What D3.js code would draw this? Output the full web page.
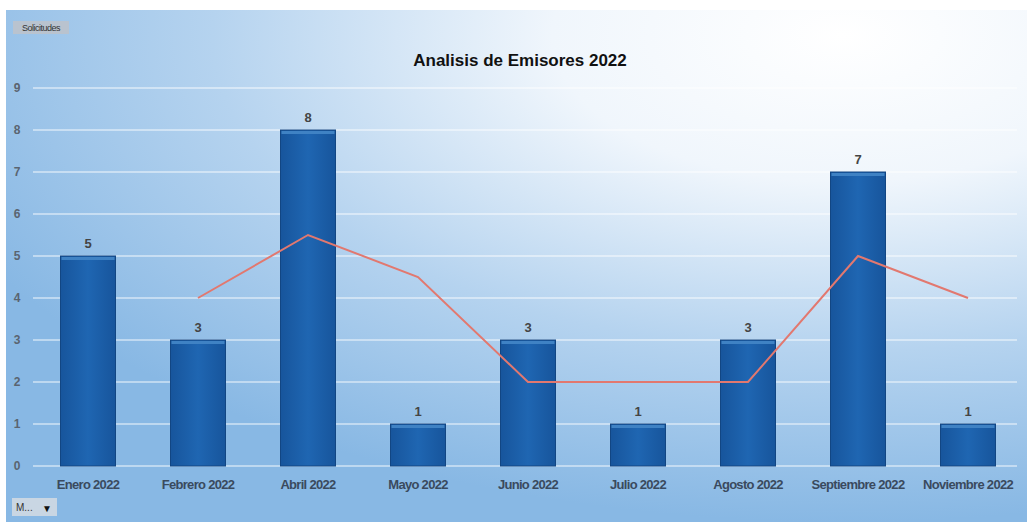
<!DOCTYPE html>
<html>
<head>
<meta charset="utf-8">
<script src="https://cdn.jsdelivr.net/npm/d3@7"></script>
<style>
  body { margin: 0; background: #fff; }
  svg { display: block; font-family: "Liberation Sans", Arial, sans-serif; }
</style>
</head>
<body>
<svg id="chart" width="1027" height="522"></svg>
<script>
// data
const months = ["Enero 2022", "Febrero 2022", "Abril 2022", "Mayo 2022", "Junio 2022",
                "Julio 2022", "Agosto 2022", "Septiembre 2022", "Noviembre 2022"];
const solicitudes = [5, 3, 8, 1, 3, 1, 3, 7, 1];
// trend line (starts at the second month)
const trendMonths = ["Febrero 2022", "Abril 2022", "Mayo 2022", "Junio 2022",
                     "Julio 2022", "Agosto 2022", "Septiembre 2022", "Noviembre 2022"];
const trendValues = [4, 5.5, 4.5, 2, 2, 2, 5, 4];
const yTicks = [0, 1, 2, 3, 4, 5, 6, 7, 8, 9];

const svg = d3.select("svg#chart");
const W = 1027, H = 522;
const margin = {top: 88, right: 4, bottom: 56, left: 33};

// background
const defs = svg.append("defs");
const bg = defs.append("radialGradient").attr("id", "bg")
  .attr("cx", "0.82").attr("cy", "0.05").attr("r", "0.95");
bg.append("stop").attr("offset", "0").attr("stop-color", "#ffffff");
bg.append("stop").attr("offset", "0.3").attr("stop-color", "#f0f6fc");
bg.append("stop").attr("offset", "0.65").attr("stop-color", "#b5d3ef");
bg.append("stop").attr("offset", "1").attr("stop-color", "#88b8e4");

const barGrad = defs.append("linearGradient").attr("id", "bar")
  .attr("x1", 0).attr("x2", 1).attr("y1", 0).attr("y2", 0);
barGrad.append("stop").attr("offset", "0").attr("stop-color", "#17559c");
barGrad.append("stop").attr("offset", "0.5").attr("stop-color", "#1f66b2");
barGrad.append("stop").attr("offset", "1").attr("stop-color", "#17559c");

svg.append("rect").attr("width", W).attr("height", H).attr("fill", "#ffffff");
svg.append("rect")
  .attr("x", 6).attr("y", 10)
  .attr("width", W - 6).attr("height", H - 10)
  .attr("fill", "url(#bg)");

const x = d3.scaleBand()
  .domain(months)
  .range([margin.left, W - margin.right])
  .paddingInner(0.5)
  .paddingOuter(0.25);

const y = d3.scaleLinear()
  .domain([0, 9])
  .range([H - margin.bottom, margin.top]);

// grid lines
svg.append("g")
  .selectAll("line")
  .data(yTicks)
  .join("line")
  .attr("x1", margin.left)
  .attr("x2", W - 10)
  .attr("y1", d => y(d))
  .attr("y2", d => y(d))
  .attr("stroke", "#ffffff")
  .attr("stroke-opacity", 0.6)
  .attr("stroke-width", 1.5);

// y axis labels
const yAxis = svg.append("g")
  .attr("transform", "translate(17,0)")
  .call(d3.axisLeft(y).tickValues(yTicks).tickSize(0).tickPadding(0));
yAxis.select(".domain").remove();
yAxis.selectAll("text")
  .attr("font-size", 12).attr("font-weight", "bold")
  .attr("fill", "#5a6470").attr("text-anchor", "middle")
  .style("font-family", "'Liberation Sans', Arial, sans-serif");

// x axis labels
const xAxis = svg.append("g")
  .attr("transform", "translate(0," + (H - margin.bottom) + ")")
  .call(d3.axisBottom(x).tickSize(0).tickPadding(14));
xAxis.select(".domain").remove();
xAxis.selectAll("text")
  .attr("font-size", 13).attr("font-weight", "bold")
  .attr("fill", "#3a4a5e").attr("letter-spacing", "-0.7")
  .style("font-family", "'Liberation Sans', Arial, sans-serif");

// bars
const bars = svg.append("g");
bars.selectAll("rect.bar")
  .data(solicitudes)
  .join("rect")
  .attr("class", "bar")
  .attr("x", (d, i) => x(months[i]))
  .attr("y", d => y(d))
  .attr("width", x.bandwidth())
  .attr("height", d => y(0) - y(d))
  .attr("fill", "url(#bar)")
  .attr("stroke", "#124683")
  .attr("stroke-width", 1);

bars.selectAll("rect.top")
  .data(solicitudes)
  .join("rect")
  .attr("class", "top")
  .attr("x", (d, i) => x(months[i]) + 1)
  .attr("y", d => y(d) + 1)
  .attr("width", x.bandwidth() - 2)
  .attr("height", 3)
  .attr("fill", "#3f82c4");

// value labels
svg.append("g")
  .selectAll("text")
  .data(solicitudes)
  .join("text")
  .attr("x", (d, i) => x(months[i]) + x.bandwidth() / 2)
  .attr("y", d => y(d) - 8)
  .attr("text-anchor", "middle")
  .attr("font-size", 13).attr("font-weight", "bold")
  .attr("fill", "#444")
  .text(d => d);

// trend line
const line = d3.line()
  .x((d, i) => x(trendMonths[i]) + x.bandwidth() / 2)
  .y(d => y(d));
svg.append("path")
  .datum(trendValues)
  .attr("d", line)
  .attr("fill", "none")
  .attr("stroke", "#e2786f")
  .attr("stroke-width", 2);

// title
svg.append("text")
  .attr("x", 520).attr("y", 66)
  .attr("text-anchor", "middle")
  .attr("font-size", 17).attr("font-weight", "bold")
  .attr("fill", "#111")
  .text("Analisis de Emisores 2022");

// "Solicitudes" tag
svg.append("rect")
  .attr("x", 13).attr("y", 21).attr("width", 56).attr("height", 13)
  .attr("fill", "#b9c3cf");
svg.append("text")
  .attr("x", 41).attr("y", 31).attr("text-anchor", "middle")
  .attr("font-size", 9).attr("fill", "#333").attr("letter-spacing", "-0.5")
  .text("Solicitudes");

// small dropdown at the bottom
svg.append("rect")
  .attr("x", 12).attr("y", 498).attr("width", 45).attr("height", 18)
  .attr("fill", "#c9d6e3");
svg.append("text")
  .attr("x", 16).attr("y", 511)
  .attr("font-size", 10).attr("fill", "#333")
  .text("M...");
svg.append("text")
  .attr("x", 42).attr("y", 512)
  .attr("font-size", 10).attr("fill", "#111")
  .text("\u25BC");
</script>
</body>
</html>
